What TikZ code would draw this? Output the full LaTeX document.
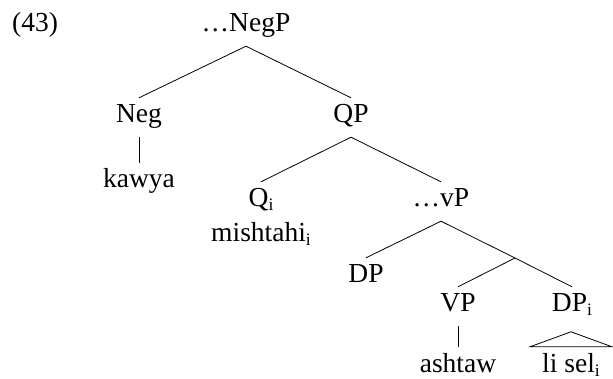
\documentclass[tikz,border=0pt]{standalone}
\usepackage{fontspec}
\setmainfont{Liberation Serif}
% small lowered index letter
\newcommand\idxi{\raisebox{-4pt}{\fontsize{17.5}{18}\selectfont i}}
\begin{document}
\begin{tikzpicture}[x=1pt,y=-1pt,
  lbl/.style={font=\fontsize{27.5}{33}\selectfont, inner sep=0pt,
              text height=25pt, text depth=14pt, anchor=base},
  branch/.style={line width=0.8pt}]
\useasboundingbox (0,0) rectangle (613,379);

% example number
\node[lbl, anchor=base west] (ex) at (12,32) {(43)};

% tree labels
\node[lbl] (negp)  at (246,32)  {…NegP};
\node[lbl] (neg)   at (139,123) {Neg};
\node[lbl] (kawya) at (139,188) {kawya};
\node[lbl] (qp)    at (351,123) {QP};
\node[lbl] (qi)    at (261,207) {Q\idxi};
\node[lbl] (mish)  at (261,242) {mishtahi\idxi};
\node[lbl] (vp)    at (441,207) {…vP};
\node[lbl] (dp)    at (366,283) {DP};
\coordinate (vbar) at (515,258);
\node[lbl] (vpp)   at (458,312) {VP};
\node[lbl] (dpi)   at (572,312) {DP\idxi};
\node[lbl] (ashtaw) at (458,372) {ashtaw};
\node[lbl] (lisel) at (571,372) {li sel\idxi};

% branches
\draw[branch] (neg.north) -- (negp.south) -- (qp.north);
\draw[branch] (neg.south) -- (kawya.north);
\draw[branch] (qi.north) -- (qp.south) -- (vp.north);
\draw[branch] (dp.north) -- (vp.south) -- (vbar);
\draw[branch] (vpp.north) -- (vbar) -- (dpi.north);
\draw[branch] (vpp.south) -- (ashtaw.north);

% roof over the DP
\draw[branch] (lisel.north) +(-41,0) -- +(41,0) -- +(0,-15) -- cycle;
\end{tikzpicture}
\end{document}
